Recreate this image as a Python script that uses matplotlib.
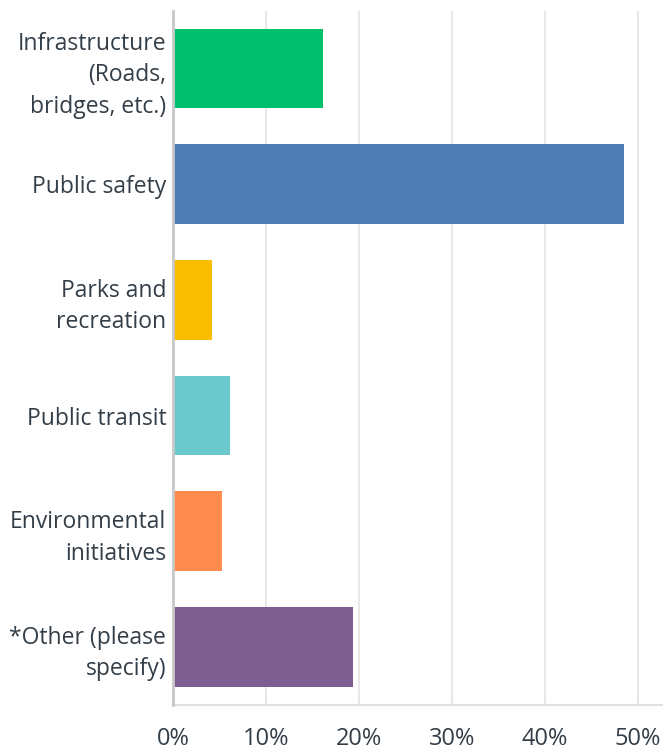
import numpy as np
import matplotlib.pyplot as plt
from matplotlib.ticker import FuncFormatter

categories = ['Infrastructure\n(Roads,\nbridges, etc.)', 'Public safety',
              'Parks and\nrecreation', 'Public transit',
              'Environmental\ninitiatives', '*Other (please\nspecify)']
shares = [16.1, 48.5, 4.2, 6.1, 5.2, 19.3]
colors = ['#00BF6F', '#507CB6', '#F9BE00', '#6BC8CD', '#FF8B4F', '#7D5E90']
xticks = [0, 10, 20, 30, 40, 50]

plt.rcParams['font.family'] = ['Open Sans', 'DejaVu Sans']
text_col = '#333E48'

fig = plt.figure(figsize=(6.63, 7.5), dpi=100)
ax = fig.add_axes([0.2614, 0.0603, 0.7386, 0.9256])

y = np.arange(len(categories))
ax.barh(y, shares, height=0.69, color=colors, zorder=3)

ax.set_ylim(len(categories) - 0.5, -0.5)
ax.set_xlim(0, 52.7)
ax.set_xticks(xticks)
ax.xaxis.set_major_formatter(FuncFormatter(lambda v, p: f'{v:.0f}%'))
ax.set_yticks(y)
ax.set_yticklabels(categories, linespacing=1.42)

ax.grid(axis='x', color='#E8E8E8', linewidth=1.5, zorder=0)
ax.tick_params(axis='x', length=0, pad=16, labelsize=17, labelcolor=text_col)
ax.tick_params(axis='y', length=0, pad=5, labelsize=16.5, labelcolor=text_col)

for side in ['top', 'right']:
    ax.spines[side].set_visible(False)
ax.spines['left'].set_color('#C8C8C8')
ax.spines['left'].set_linewidth(2)
ax.spines['left'].set_zorder(4)
ax.spines['bottom'].set_color('#E0E0E0')
ax.spines['bottom'].set_linewidth(1.5)

fig.savefig('out.png', dpi=100)
